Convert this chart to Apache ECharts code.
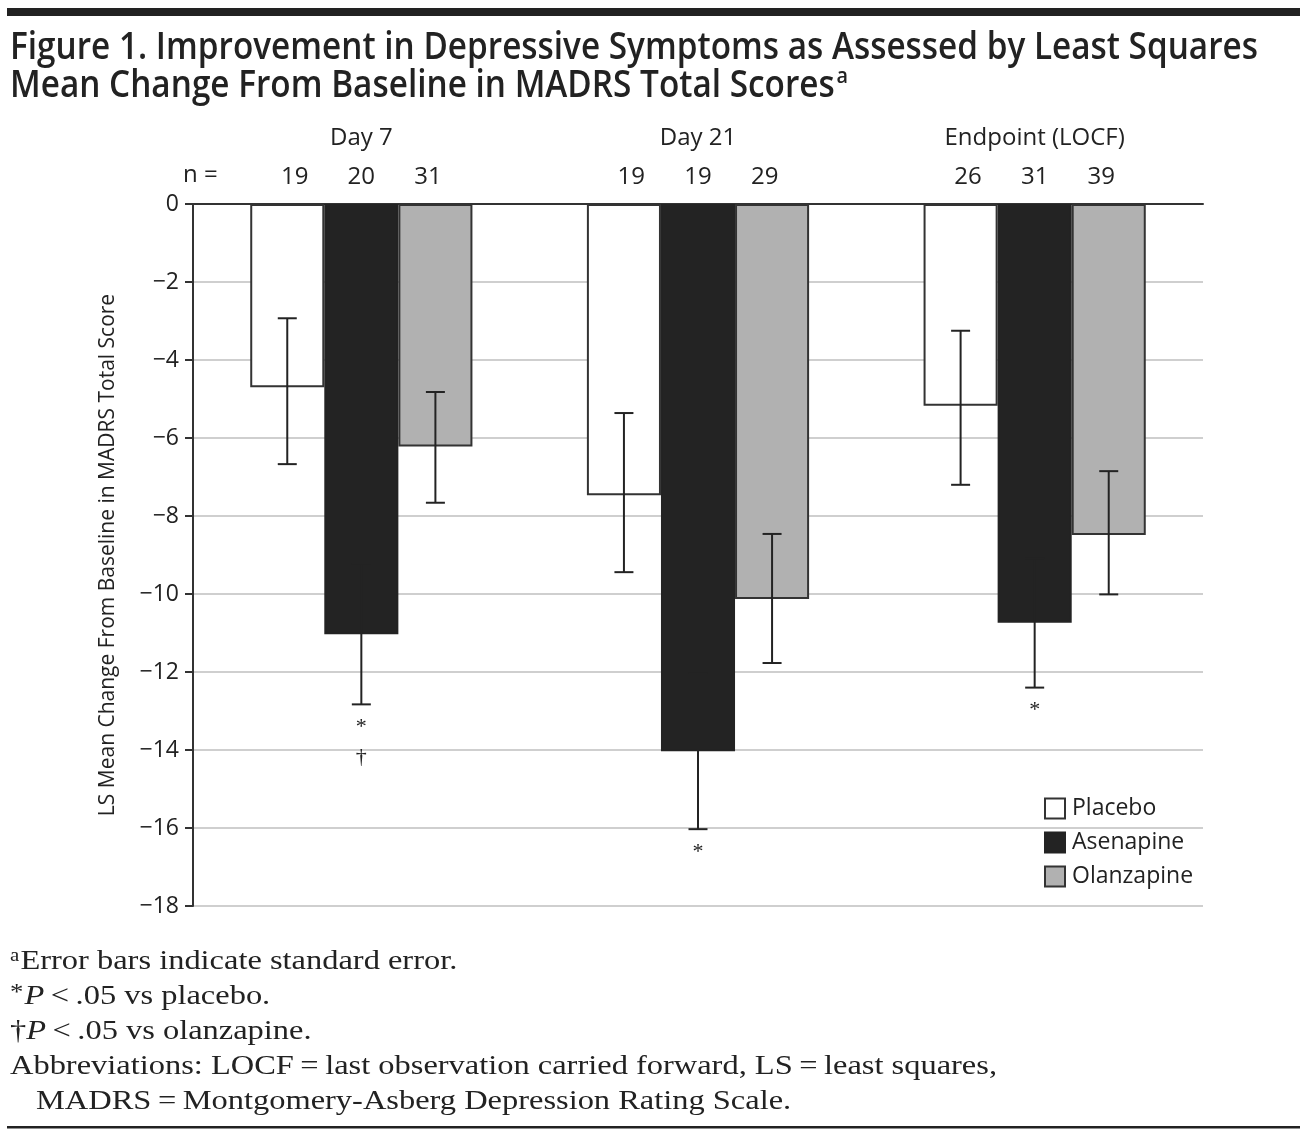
<!DOCTYPE html>
<html>
<head>
<meta charset="utf-8">
<script src="https://cdn.jsdelivr.net/npm/echarts@6/dist/echarts.min.js"></script>
<style>
html,body{margin:0;padding:0;background:#fff;}
#c{width:1307px;height:1137px;}
</style>
</head>
<body>
<div id="c"></div>
<script>
// ---- data ----
const categories = ['Day 7', 'Day 21', 'Endpoint (LOCF)'];
const seriesNames = ['Placebo', 'Asenapine', 'Olanzapine'];
const placebo = [-4.70, -7.47, -5.17];
const asenapine = [-11.03, -14.03, -10.74];
const olanzapine = [-6.22, -10.13, -8.49];
// error bar ends (upper, lower)
const placeboErrHigh = [-2.93, -5.36, -3.25];
const placeboErrLow = [-6.67, -9.44, -7.20];
const asenapineErrHigh = [-9.23, -12.03, -9.08];
const asenapineErrLow = [-12.83, -16.03, -12.40];
const olanzapineErrHigh = [-4.82, -8.46, -6.85];
const olanzapineErrLow = [-7.66, -11.77, -10.01];
// sample sizes
const placeboN = [19, 19, 26];
const asenapineN = [20, 19, 31];
const olanzapineN = [31, 29, 39];
// significance marks (asenapine)
const asenapineSig = ['*\n\u2020', '*', '*'];
const yTicks = [0, -2, -4, -6, -8, -10, -12, -14, -16, -18];

const values = [placebo, asenapine, olanzapine];
const errHigh = [placeboErrHigh, asenapineErrHigh, olanzapineErrHigh];
const errLow = [placeboErrLow, asenapineErrLow, olanzapineErrLow];
const nVals = [placeboN, asenapineN, olanzapineN];
const sigs = [[null, null, null], asenapineSig, [null, null, null]];
const fills = ['#ffffff', '#232323', '#b1b1b1'];

const SANS = '"Open Sans", "Noto Sans", sans-serif';
const SERIF = '"Liberation Serif", "DejaVu Serif", serif';
const CAT_GAP = 0.34;

function measure(text, font) {
  const ctx = document.createElement('canvas').getContext('2d');
  ctx.font = font;
  return ctx.measureText(text).width;
}

const titleFont = '600 37px "Open Sans"';
const title1 = 'Figure 1. Improvement in Depressive Symptoms as Assessed by Least Squares';
const title2 = 'Mean Change From Baseline in MADRS Total Scores';
const titleScale = 1248 / measure(title1, titleFont);

const footFont = '28px "Liberation Serif"';
const foot4 = 'Abbreviations: LOCF\u2009=\u2009last observation carried forward, LS\u2009=\u2009least squares,';
const footScale = 987 / measure(foot4, footFont);

const chart = echarts.init(document.getElementById('c'), null, {renderer: 'canvas'});

function barOffset(api, s) {
  const band = api.size([1, 0])[0];
  const w = band * (1 - CAT_GAP) / 3;
  return {w: w, off: (s - 1) * w};
}

const barSeries = seriesNames.map((name, s) => ({
  name: name,
  type: 'bar',
  data: values[s],
  barGap: '0%',
  barCategoryGap: (CAT_GAP * 100) + '%',
  itemStyle: {color: fills[s], borderColor: s === 1 ? '#232323' : '#333', borderWidth: 2},
  z: 2
}));

const errData = [];
for (let s = 0; s < 3; s++) for (let c = 0; c < 3; c++) {
  errData.push([c, s, errHigh[s][c], errLow[s][c], nVals[s][c], sigs[s][c]]);
}

const errSeries = {
  type: 'custom',
  name: 'err',
  data: errData,
  encode: {x: 0, y: 2},
  z: 5,
  silent: true,
  renderItem: function (params, api) {
    const c = api.value(0), s = api.value(1);
    const hi = api.value(2), lo = api.value(3);
    const b = barOffset(api, s);
    const pHi = api.coord([c, hi]);
    const pLo = api.coord([c, lo]);
    const x = pHi[0] + b.off;
    const cap = 9.5;
    const st = {stroke: '#232323', lineWidth: 2};
    const children = [
      {type: 'line', shape: {x1: x, y1: pHi[1], x2: x, y2: pLo[1]}, style: st},
      {type: 'line', shape: {x1: x - cap, y1: pHi[1], x2: x + cap, y2: pHi[1]}, style: st},
      {type: 'line', shape: {x1: x - cap, y1: pLo[1], x2: x + cap, y2: pLo[1]}, style: st}
    ];
    const p0 = api.coord([c, 0]);
    children.push({
      type: 'text',
      style: {
        text: String(api.value(4)), x: p0[0] + b.off * 0.9, y: 177,
        align: 'center', verticalAlign: 'middle',
        font: '24px ' + SANS, fill: '#222'
      }
    });
    const sig = errData[params.dataIndex][5];
    if (sig) {
      children.push({
        type: 'text',
        style: {
          text: sig, x: x, y: pLo[1] + 8,
          align: 'center', verticalAlign: 'top',
          font: '22px ' + SERIF, fill: '#222', lineHeight: 30
        }
      });
    }
    return {type: 'group', children: children};
  }
};

const option = {
  backgroundColor: '#fff',
  animation: false,
  grid: {left: 193, right: 104, top: 204, bottom: 231, containLabel: false},
  legend: {
    data: seriesNames,
    orient: 'vertical',
    left: 1039,
    top: 792,
    itemWidth: 20,
    itemHeight: 20,
    itemGap: 11,
    icon: 'rect',
    textStyle: {fontFamily: SANS, fontSize: 23, color: '#222', lineHeight: 23, padding: [0, 0, 0, 2]}
  },
  xAxis: {
    type: 'category',
    data: categories,
    position: 'top',
    axisLine: {show: true, onZero: false, lineStyle: {color: '#333', width: 2}},
    axisTick: {show: false},
    axisLabel: {fontFamily: SANS, fontSize: 24, color: '#222', margin: 54},
    splitLine: {show: false}
  },
  yAxis: {
    type: 'value',
    min: -18,
    max: 0,
    interval: 2,
    name: 'LS Mean Change From Baseline in MADRS Total Score',
    nameLocation: 'middle',
    nameGap: 74,
    nameTextStyle: {fontFamily: SANS, fontSize: 21, color: '#222'},
    axisLine: {show: true, lineStyle: {color: '#333', width: 2}},
    axisTick: {show: true, length: 8, lineStyle: {color: '#333', width: 2}},
    axisLabel: {
      fontFamily: SANS, fontSize: 23, color: '#222', margin: 14,
      formatter: v => (v < 0 ? '\u2212' + Math.abs(v) : String(v))
    },
    splitLine: {show: true, lineStyle: {color: '#cfcfcf', width: 2}}
  },
  series: barSeries.concat([errSeries]),
  graphic: [
    {type: 'rect', shape: {x: 7, y: 8, width: 1293, height: 8}, style: {fill: '#222'}},
    {type: 'rect', shape: {x: 7, y: 1126, width: 1293, height: 2.5}, style: {fill: '#222'}},
    {
      type: 'text', x: 10, y: 48, scaleX: titleScale, originX: 0,
      style: {text: title1, font: titleFont, fill: '#222', verticalAlign: 'middle'}
    },
    {
      type: 'text', x: 10, y: 86, scaleX: titleScale, originX: 0,
      style: {
        text: '{m|' + title2 + '}{s|a}', verticalAlign: 'middle',
        rich: {
          m: {font: titleFont, fill: '#222', verticalAlign: 'middle'},
          s: {font: '600 22px "Open Sans"', fill: '#222', verticalAlign: 'top', padding: [0, 0, 18, 2]}
        }
      }
    },
    {
      type: 'text', left: 183, top: 163,
      style: {text: 'n =', font: '24px ' + SANS, fill: '#222'}
    },
    {
      type: 'text', x: 10, y: 962, scaleX: footScale, originX: 0,
      style: {
        text: '{s|a}{t|Error bars indicate standard error.}', verticalAlign: 'middle',
        rich: {s: {font: '18px "Liberation Serif"', fill: '#222', verticalAlign: 'top', padding: [0, 1, 12, 0]},
               t: {font: footFont, fill: '#222'}}
      }
    },
    {
      type: 'text', x: 10, y: 997, scaleX: footScale, originX: 0,
      style: {
        text: '{s|*}{i|P}{t|\u2009<\u2009.05 vs placebo.}', verticalAlign: 'middle',
        rich: {s: {font: '23px "Liberation Serif"', fill: '#222', verticalAlign: 'top', padding: [0, 1, 8, 0]},
               i: {font: 'italic 28px "Liberation Serif"', fill: '#222'},
               t: {font: footFont, fill: '#222'}}
      }
    },
    {
      type: 'text', x: 10, y: 1032, scaleX: footScale, originX: 0,
      style: {
        text: '{t|\u2020}{i|P}{t|\u2009<\u2009.05 vs olanzapine.}', verticalAlign: 'middle',
        rich: {i: {font: 'italic 28px "Liberation Serif"', fill: '#222'},
               t: {font: footFont, fill: '#222'}}
      }
    },
    {
      type: 'text', x: 10, y: 1067, scaleX: footScale, originX: 0,
      style: {text: foot4, font: footFont, fill: '#222', verticalAlign: 'middle'}
    },
    {
      type: 'text', x: 36, y: 1102, scaleX: footScale, originX: 0,
      style: {text: 'MADRS\u2009=\u2009Montgomery-Asberg Depression Rating Scale.', font: footFont, fill: '#222', verticalAlign: 'middle'}
    }
  ]
};

chart.setOption(option);
</script>
</body>
</html>
